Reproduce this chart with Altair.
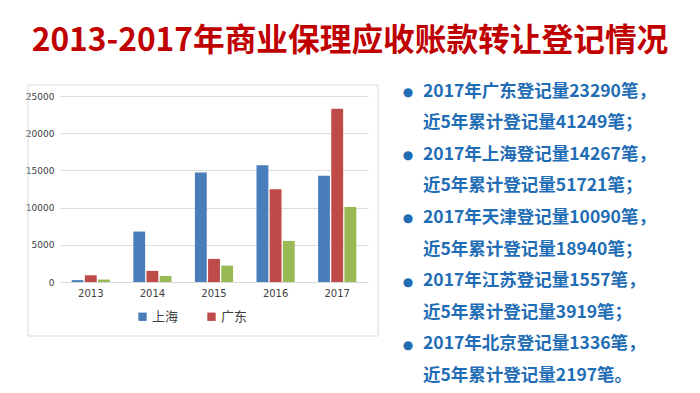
import altair as alt
import pandas as pd

years = ["2013", "2014", "2015", "2016", "2017"]
cities = ["上海", "广东", "天津"]
shanghai = [250, 6780, 14720, 15700, 14267]
guangdong = [900, 1500, 3100, 12459, 23290]
tianjin = [330, 800, 2200, 5520, 10090]
colors = ["#4a7ebb", "#be4b48", "#98b954"]
y_ticks = [0, 5000, 10000, 15000, 20000, 25000]

title_text = "2013-2017年商业保理应收账款转让登记情况"
notes = [
    "2017年广东登记量23290笔，",
    "近5年累计登记量41249笔；",
    "2017年上海登记量14267笔，",
    "近5年累计登记量51721笔；",
    "2017年天津登记量10090笔，",
    "近5年累计登记量18940笔；",
    "2017年江苏登记量1557笔，",
    "近5年累计登记量3919笔；",
    "2017年北京登记量1336笔，",
    "近5年累计登记量2197笔。",
]

rows = []
for c, vals in zip(cities, [shanghai, guangdong, tianjin]):
    for y, v in zip(years, vals):
        rows.append({"year": y, "city": c, "value": v})
df = pd.DataFrame(rows)

FONT = "Noto Sans CJK SC"

panel = alt.Chart(pd.DataFrame({"a": [0]})).mark_rect(
    filled=False, stroke="#d9d9d9", strokeWidth=1
).encode(x=alt.value(-32), x2=alt.value(318), y=alt.value(-11), y2=alt.value(240))

bars = alt.Chart(df).mark_bar().encode(
    x=alt.X("year:N", sort=years, title=None,
            scale=alt.Scale(paddingInner=0.38, paddingOuter=0.19),
            axis=alt.Axis(labelAngle=0, ticks=False, domainColor="#d9d9d9",
                          labelColor="#404040", labelFontSize=10, labelFont="DejaVu Sans",
                          labelPadding=6)),
    xOffset=alt.XOffset("city:N", sort=cities, scale=alt.Scale(paddingInner=0.1)),
    y=alt.Y("value:Q", title=None,
            scale=alt.Scale(domain=[0, 25000], nice=False),
            axis=alt.Axis(values=y_ticks, format="d", ticks=False, domain=False, gridColor="#dcdcdc",
                          labelColor="#404040", labelFontSize=9, labelFont="DejaVu Sans",
                          labelPadding=6)),
    color=alt.Color("city:N", sort=cities,
                    scale=alt.Scale(domain=cities, range=colors),
                    legend=alt.Legend(values=["上海", "广东"], orient="none", direction="horizontal",
                                      legendX=76, legendY=214, title=None, symbolType="square",
                                      symbolSize=70, symbolStrokeWidth=0, labelFontSize=13,
                                      labelFont=FONT, labelColor="#404040", columnPadding=26,
                                      symbolOffset=0, labelOffset=3)),
)

title = alt.Chart(pd.DataFrame({"t": [title_text]})).mark_text(
    font=FONT, fontSize=31.7, fontWeight="bold", color="#c00000", baseline="middle", align="center"
).encode(text="t:N", x=alt.value(290), y=alt.value(-55))

note_text = alt.Chart(pd.DataFrame({"t": ["\n".join(notes)]})).mark_text(
    font=FONT, fontSize=17.5, fontWeight="bold", color="#1f6db5", baseline="middle", align="left",
    lineBreak="\n", lineHeight=31.6
).encode(text="t:N", x=alt.value(363), y=alt.value(-4.3))

bullets = alt.Chart(pd.DataFrame({"t": ["\n".join(["●"] * 5)]})).mark_text(
    font="DejaVu Sans", fontSize=12, color="#1f6db5", baseline="middle", align="center",
    lineBreak="\n", lineHeight=63.3
).encode(text="t:N", x=alt.value(348), y=alt.value(-4.3))

chart = alt.layer(panel, bars, title, note_text, bullets).properties(
    width=308, height=186,
    autosize=alt.AutoSizeParams(type="none"),
    padding={"left": 52, "top": 88, "right": 324, "bottom": 103},
    background="white",
).configure_view(stroke=None)

chart.save("out.html", embed_options={"renderer": "svg", "actions": False})
